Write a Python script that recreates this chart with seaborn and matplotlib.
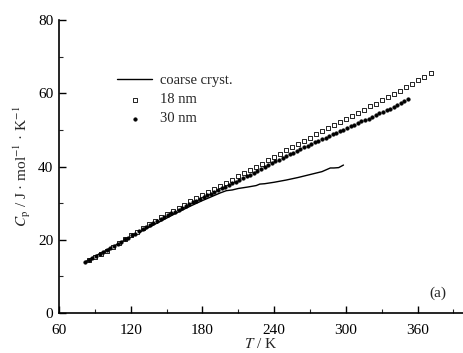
#!/usr/bin/env python3
# coding: utf-8
# heat capacity of coarse crystals vs. 18 nm and 30 nm nanoparticles
import numpy as np
import pandas as pd
import matplotlib
matplotlib.use("Agg")
import matplotlib.pyplot as plt
from matplotlib.ticker import MultipleLocator
import seaborn as sns

# **--- data**
coarse_T = [82, 90, 100, 110, 120, 130, 140, 150, 160, 170, 180, 190, 195, 200,
            205, 210, 218, 225, 228, 232, 240, 250, 260, 270, 280, 287, 290, 294, 298]
coarse_cp = [14.0, 15.5, 17.2, 19.0, 20.8, 22.5, 24.2, 25.9, 27.6, 29.2, 30.7, 32.1, 32.8, 33.4,
             33.6, 34.0, 34.4, 34.8, 35.2, 35.3, 35.7, 36.3, 37.0, 37.8, 38.6, 39.6, 39.6, 39.7, 40.4]

nm18_T = [85, 90, 95, 100, 105, 110, 115, 120, 125, 130, 135, 140, 145, 150, 155, 160,
          165, 170, 175, 180, 185, 190, 195, 200, 205, 210, 215, 220, 225, 230, 235, 240,
          245, 250, 255, 260, 265, 270, 275, 280, 285, 290, 295, 300, 305, 310, 315, 320,
          325, 330, 335, 340, 345, 350, 355, 360, 365, 371]
nm18_cp = [14.5, 15.3, 16.2, 17.0, 18.1, 19.1, 20.2, 21.2, 22.2, 23.2, 24.2, 25.2, 26.1, 27.0, 27.9, 28.8,
           29.6, 30.5, 31.3, 32.2, 33.0, 33.8, 34.7, 35.5, 36.4, 37.3, 38.1, 39.0, 39.9, 40.8, 41.7, 42.6,
           43.5, 44.4, 45.3, 46.2, 47.1, 47.9, 48.8, 49.7, 50.5, 51.3, 52.2, 53.0, 53.8, 54.7, 55.5, 56.4,
           57.2, 58.1, 58.9, 59.8, 60.7, 61.6, 62.6, 63.5, 64.5, 65.4]

nm30_T = [82, 85, 88, 91, 94, 97, 100, 103, 106, 109, 112, 115, 118, 121, 124, 127, 130,
          133, 136, 139, 142, 145, 148, 151, 154, 157, 160, 163, 166, 169, 172, 175, 178,
          181, 184, 187, 190, 193, 196, 199, 202, 205, 208, 211, 214, 217, 220, 223, 226,
          229, 232, 235, 238, 241, 244, 247, 250, 253, 256, 259, 262, 265, 268, 271, 274,
          277, 280, 283, 286, 289, 292, 295, 298, 301, 304, 307, 310, 313, 316, 319, 322,
          325, 328, 331, 334, 337, 340, 343, 346, 349, 352]
nm30_cp = [14.0, 14.5, 15.1, 15.6, 16.2, 16.7, 17.3, 17.8, 18.4, 18.9, 19.5, 20.1, 20.6, 21.2, 21.7, 22.3, 22.9,
           23.4, 24.0, 24.6, 25.1, 25.7, 26.2, 26.7, 27.2, 27.7, 28.2, 28.7, 29.2, 29.7, 30.2, 30.7, 31.2,
           31.7, 32.1, 32.6, 33.0, 33.5, 34.0, 34.5, 34.9, 35.4, 35.9, 36.4, 36.8, 37.3, 37.8, 38.3, 38.8,
           39.3, 39.8, 40.4, 40.9, 41.4, 41.8, 42.3, 42.8, 43.3, 43.8, 44.2, 44.7, 45.2, 45.6, 46.1, 46.6,
           47.0, 47.5, 47.9, 48.4, 48.8, 49.2, 49.7, 50.1, 50.5, 51.0, 51.4, 51.8, 52.3, 52.7, 53.1, 53.6,
           54.0, 54.5, 54.9, 55.4, 55.8, 56.3, 56.8, 57.3, 57.9, 58.4]

df_coarse = pd.DataFrame({"T": coarse_T, "Cp": coarse_cp})
df_18 = pd.DataFrame({"T": nm18_T, "Cp": nm18_cp})
df_30 = pd.DataFrame({"T": nm30_T, "Cp": nm30_cp})

# **--- style**
sns.set_style("ticks")
plt.rcParams['font.family'] = ['Liberation Serif', 'DejaVu Serif']
plt.rcParams['mathtext.fontset'] = 'stix'
plt.rcParams['xtick.direction'] = 'in'
plt.rcParams['ytick.direction'] = 'in'

fig = plt.figure(figsize=(4.63, 3.53), dpi=100)
ax = fig.add_axes([0.1274, 0.1133, 0.8726, 0.830])

sns.lineplot(data=df_coarse, x="T", y="Cp", ax=ax, color="black", lw=1.0,
             label="coarse cryst.", sort=False)
sns.scatterplot(data=df_18, x="T", y="Cp", ax=ax, marker="s", s=8,
                facecolor="white", edgecolor="black", linewidth=0.6, label="18 nm", zorder=3)
sns.scatterplot(data=df_30, x="T", y="Cp", ax=ax, marker="o", s=7,
                color="black", edgecolor="black", linewidth=0.3, label="30 nm", zorder=4)

ax.set_xlim(60, 398)
ax.set_ylim(0, 80)
ax.xaxis.set_major_locator(MultipleLocator(60))
ax.xaxis.set_minor_locator(MultipleLocator(30))
ax.yaxis.set_major_locator(MultipleLocator(20))
ax.yaxis.set_minor_locator(MultipleLocator(10))
ax.tick_params(which="major", length=5, width=1.0, labelsize=11, colors="black")
ax.tick_params(which="minor", length=3, width=0.8)
ax.tick_params(axis="x", which="major", pad=8)
ax.tick_params(axis="y", which="major", pad=4)
for s in ["left", "bottom"]:
    ax.spines[s].set_linewidth(1.2)
    ax.spines[s].set_color("black")
sns.despine(ax=ax)

ax.set_xlabel("$T$ / K", fontsize=11, labelpad=0)
ax.set_ylabel("$C_\\mathrm{p}$ / J · mol$^{-1}$ · K$^{-1}$", fontsize=11, labelpad=4)

ax.text(377, 5.5, "(a)", fontsize=11, ha="center", va="center")

leg = ax.legend(loc="upper left", bbox_to_anchor=(0.13, 0.835), frameon=False,
                fontsize=10.5, handlelength=2.4, handletextpad=0.5,
                labelspacing=0.4, borderaxespad=0)

plt.savefig("out.png", dpi=100)
